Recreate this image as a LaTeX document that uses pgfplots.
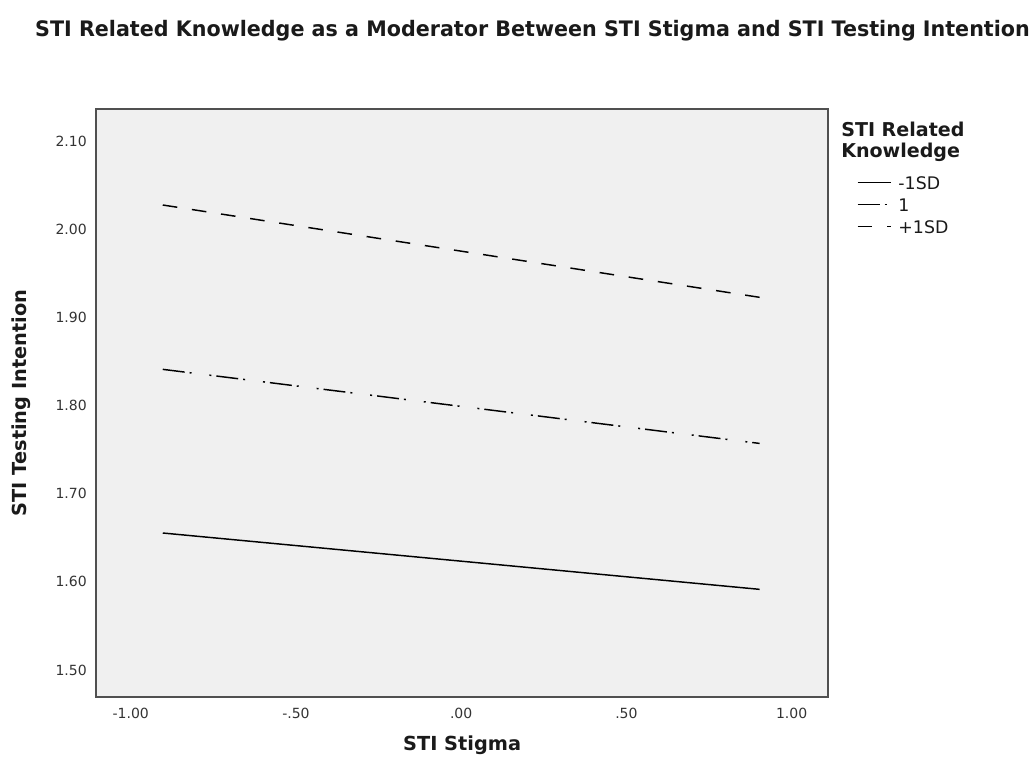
\documentclass[border=0pt]{standalone}
\usepackage{pgfplots}
\pgfplotsset{compat=1.18}
\usepackage{fontspec}
\setmainfont{DejaVu Sans}
\usepackage{graphicx}
\definecolor{plotbg}{HTML}{F0F0F0}
\definecolor{framecol}{HTML}{505050}
\definecolor{ticktext}{HTML}{333333}
\definecolor{labeltext}{HTML}{1A1A1A}
\begin{document}
\begin{tikzpicture}
\useasboundingbox (0,0) rectangle (776.25pt,573pt);
\begin{axis}[
  at={(72pt,50.25pt)}, anchor=south west,
  scale only axis, width=549pt, height=441pt,
  xmin=-1.105, xmax=1.11, ymin=1.4694, ymax=2.1363,
  axis background/.style={fill=plotbg},
  axis line style={draw=framecol, line width=1.2pt},
  major tick length=0pt, tick style={draw=none},
  xtick={-1,-0.5,0,0.5,1}, xticklabels={-1.00,-.50,.00,.50,1.00},
  ytick={1.5,1.6,1.7,1.8,1.9,2.0,2.1},
  yticklabels={1.50,1.60,1.70,1.80,1.90,2.00,2.10},
  ticklabel style={font=\fontsize{10.5}{12}\selectfont, text=ticktext, inner sep=0pt},
  xticklabel style={yshift=-8.25pt},
  yticklabel style={xshift=-6.75pt},
  legend style={at={(1,1)}, anchor=north west, xshift=21.75pt, yshift=-50.75pt,
    draw=none, fill=none, inner sep=0pt, outer sep=0pt,
    font=\fontsize{13}{13}\selectfont, row sep=0pt, column sep=5.25pt,
    nodes={inner sep=0pt, text height=10pt, text depth=6.5pt, text=labeltext}},
  legend cell align=left,
  legend image code/.code={\draw[#1] (0pt,3.75pt) -- (24.75pt,3.75pt);},
]
\addplot[black, line width=1.1pt] coordinates {(-0.903,1.6554) (0.903,1.5915)};
\addlegendentry{-1SD}
\addplot[black, line width=1.1pt, dash pattern=on 16.5pt off 3.75pt on 1.5pt off 13.5pt on 1.5pt off 3.75pt] coordinates {(-0.903,1.8410) (0.903,1.757)};
\addlegendentry{1}
\addplot[black, line width=1.1pt, dash pattern=on 11pt off 11.1pt] coordinates {(-0.903,2.0274) (0.903,1.9227)};
\addlegendentry{+1SD}
\end{axis}
\node[anchor=base, inner sep=0pt, text=labeltext, font=\bfseries\fontsize{16}{18}\selectfont] at (399.4pt,545.25pt) {\resizebox{746pt}{\height}{STI Related Knowledge as a Moderator Between STI Stigma and STI Testing Intention}};
\node[rotate=90, anchor=center, inner sep=0pt, text=labeltext, font=\bfseries\fontsize{14.5}{16}\selectfont] at (15.75pt,270.75pt) {STI Testing Intention};
\node[anchor=base, inner sep=0pt, text=labeltext, font=\bfseries\fontsize{14.5}{16}\selectfont] at (346.6pt,10.5pt) {STI Stigma};
\node[anchor=base west, inner sep=0pt, text=labeltext, font=\bfseries\fontsize{14.3}{16}\selectfont] at (630.75pt,470.25pt) {STI Related};
\node[anchor=base west, inner sep=0pt, text=labeltext, font=\bfseries\fontsize{14.3}{16}\selectfont] at (630.75pt,454.5pt) {Knowledge};
\end{tikzpicture}
\end{document}
